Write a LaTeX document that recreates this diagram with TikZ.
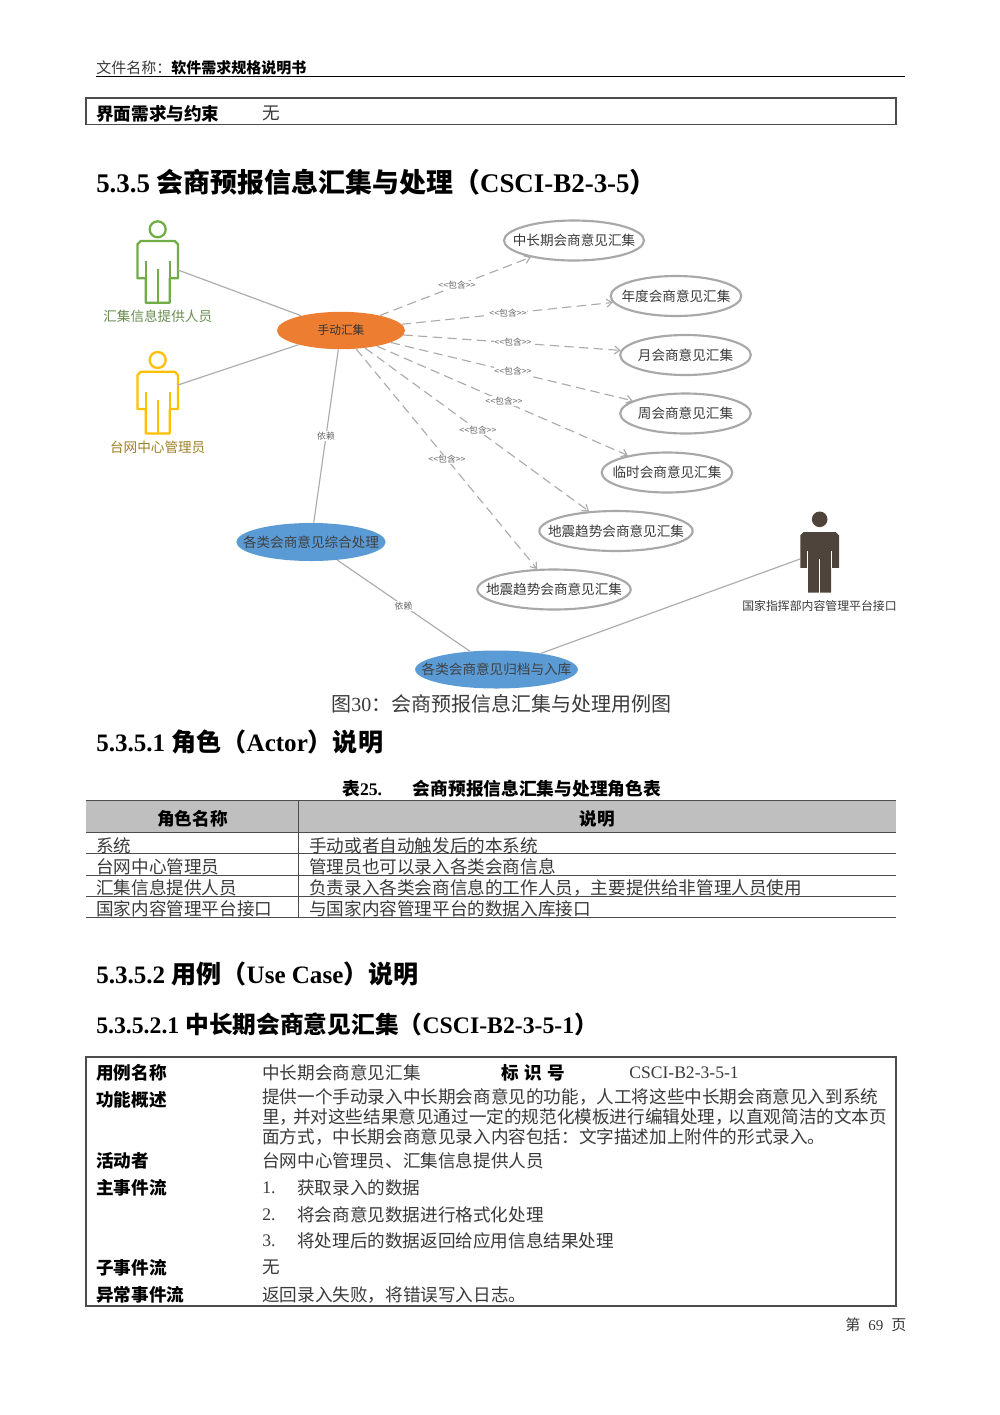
\documentclass[tikz,border=0pt]{standalone}
\usepackage{fontspec}
\setmainfont{Noto Sans CJK SC}
\newfontfamily\lat{Liberation Serif}
\usetikzlibrary{shapes.geometric,arrows.meta}
\definecolor{bodytext}{HTML}{3A3A3A}
\definecolor{conn}{HTML}{ABABAB}
\definecolor{ringc}{HTML}{A8A8A8}
\definecolor{orangec}{HTML}{ED7D31}
\definecolor{bluec}{HTML}{5B9BD5}
\definecolor{greenc}{HTML}{70AD47}
\definecolor{yellowc}{HTML}{FFC000}
\definecolor{brownc}{HTML}{4E443C}
\definecolor{headc}{HTML}{BFBFBF}
\newcommand\incl{<\kern0pt<包含>\kern0pt>}
\newcommand\actorfig[3]{% x, y of head centre, colour
  \begin{scope}[shift={(#1,#2)},draw=#3,line width=1.7pt,line join=round]
    \draw (0,0) circle[radius=8];
    \draw (-17,11.7)--(17,11.7)--(20.3,15)--(20.3,49)--(12,49)--(12,73.4)--(-12,73.4)--(-12,49)--(-20.3,49)--(-20.3,15)--cycle;
    \draw (-12,32)--(-12,49) (12,32)--(12,49) (0,40)--(0,73.4);
  \end{scope}}
\tikzset{
  txt/.style={anchor=west,inner sep=0pt,text=bodytext,yshift=-0.5pt},
  hdrf/.style={txt,font=\fontsize{11.25pt}{13pt}\selectfont},
  bodyf/.style={txt,font=\fontsize{13.2pt}{15pt}\selectfont},
  boldf/.style={txt,text=black,font=\fontsize{13.2pt}{15pt}\selectfont\bfseries},
  h1f/.style={txt,text=black,font=\fontsize{20.2pt}{24pt}\selectfont\bfseries},
  h2f/.style={txt,text=black,font=\fontsize{18.8pt}{22pt}\selectfont\bfseries},
  h3f/.style={txt,text=black,font=\fontsize{17.8pt}{21pt}\selectfont\bfseries},
  usecase/.style={ellipse,draw=ringc,line width=1.6pt,fill=white,inner sep=0pt,text=bodytext,font=\fontsize{10.2pt}{12pt}\selectfont},
  filledcase/.style={ellipse,inner sep=0pt,text=black!75,font=\fontsize{10.2pt}{12pt}\selectfont},
  actorlabel/.style={inner sep=0pt,font=\fontsize{10.2pt}{12pt}\selectfont},
  tag/.style={fill=white,inner sep=0.6pt,text=black!60,font=\fontsize{6.6pt}{8pt}\selectfont},
  assoc/.style={draw=conn,line width=0.85pt},
  incl/.style={draw=conn,line width=0.85pt,dash pattern=on 7pt off 4pt,-{Straight Barb[length=4pt,width=6pt]}},
  rule/.style={draw=black!70,line width=0.8pt},
  thinrule/.style={draw=black!70,line width=0.75pt}
}
\begin{document}
\begin{tikzpicture}[x=0.75pt,y=-0.75pt]
\useasboundingbox (0,0) rectangle (1000,1415);
\fill[white] (0,0) rectangle (1000,1415);

% page head
\node[hdrf] (hdr) at (96,67) {文件名称：{\bfseries\color{black}软件需求规格说明书}};
\draw[draw=black,line width=1.1pt] (96,76.7) -- (905,76.7);
\draw[rule] (86,98) rectangle (896,124.7);
\node[boldf] (ifa) at (96,113) {界面需求与约束};
\node[bodyf] (ifb) at (262,113) {无};
\node[h1f] (h1) at (96,182) {{\lat 5.3.5 }会商预报信息汇集与处理（{\lat CSCI-B2-3-5}）};

% use-case diagram: nodes
\node[ellipse,fill=orangec,inner sep=0pt,minimum width=96pt,minimum height=28pt,text=black!80,font=\fontsize{8.8pt}{10pt}\selectfont] (manual) at (341,330.5) {\makebox[0pt]{手动汇集}};
\node[usecase,minimum width=105pt,minimum height=30pt] (uc1) at (574,240.5) {\makebox[0pt]{中长期会商意见汇集}};
\node[usecase,minimum width=98pt,minimum height=30pt] (uc2) at (676,296) {\makebox[0pt]{年度会商意见汇集}};
\node[usecase,minimum width=98pt,minimum height=30pt] (uc3) at (685.5,355) {\makebox[0pt]{月会商意见汇集}};
\node[usecase,minimum width=98pt,minimum height=30pt] (uc4) at (685.5,413.5) {\makebox[0pt]{周会商意见汇集}};
\node[usecase,minimum width=98pt,minimum height=30pt] (uc5) at (667,472.5) {\makebox[0pt]{临时会商意见汇集}};
\node[usecase,minimum width=115pt,minimum height=30pt] (uc6) at (616,531) {\makebox[0pt]{地震趋势会商意见汇集}};
\node[usecase,minimum width=115pt,minimum height=30pt] (uc7) at (554,589.5) {\makebox[0pt]{地震趋势会商意见汇集}};
\node[filledcase,fill=bluec,minimum width=112pt,minimum height=28.5pt] (synth) at (311,542) {\makebox[0pt]{各类会商意见综合处理}};
\node[filledcase,fill=bluec,minimum width=122pt,minimum height=28.5pt] (arch) at (496.5,669.5) {\makebox[0pt]{各类会商意见归档与入库}};

% actors
\actorfig{157.7}{229.3}{greenc}
\actorfig{157.7}{360}{yellowc}
\begin{scope}[shift={(819.7,519.3)}]
  \fill[brownc] (0,0) circle[radius=7.8];
  \fill[brownc] (-16,12.7)--(16,12.7)--(19.3,16)--(19.3,48.5)--(11.5,48.5)--(11.5,73.4)--(-11.5,73.4)--(-11.5,48.5)--(-19.3,48.5)--(-19.3,16)--cycle;
  \draw[white,line width=0.75pt] (-12,32)--(-12,48.5) (12,32)--(12,48.5) (0,40)--(0,73.4);
\end{scope}
\coordinate (a1) at (178,270);
\coordinate (a2) at (178,385);
\coordinate (a3) at (800,559);
\node[actorlabel,text=greenc!70!black!85] (la1) at (157.7,316) {汇集信息提供人员};
\node[actorlabel,text=yellowc!55!black!85] (la2) at (157.7,447) {台网中心管理员};
\node[actorlabel,text=bodytext,font=\fontsize{8.9pt}{10pt}\selectfont] (la3) at (819.5,606) {国家指挥部内容管理平台接口};

% connectors
\draw[assoc] (a1) -- (manual);
\draw[assoc] (a2) -- (manual);
\draw[assoc] (a3) -- (arch);
\draw[assoc] (manual) -- (synth);
\draw[assoc] (synth) -- (arch);
\foreach \u in {uc1,uc2,uc3,uc4,uc5,uc6,uc7}{\draw[incl] (manual) -- (\u);}

% connector labels
\node[tag] (i1) at (457,285.5) {\incl};
\node[tag] (i2) at (508,313) {\incl};
\node[tag] (i3) at (513,342.5) {\incl};
\node[tag] (i4) at (513,371.5) {\incl};
\node[tag] (i5) at (504,401) {\incl};
\node[tag] (i6) at (478,430) {\incl};
\node[tag] (i7) at (447,459.5) {\incl};
\node[tag] (d1) at (326,436) {依赖};
\node[tag] (d2) at (403.5,606) {依赖};

% caption
\node[txt,font=\fontsize{15pt}{18pt}\selectfont] (cap) at (331,703) {图{\lat 30}：会商预报信息汇集与处理用例图};
\node[h2f] (h2a) at (96,741.5) {{\lat 5.3.5.1 }角色（{\lat Actor}）说明};

% role table
\node[txt,text=black,font=\fontsize{13.3pt}{15pt}\selectfont\bfseries] (tcap) at (342,788) {表{\lat 25.}\hspace{23pt}会商预报信息汇集与处理角色表};
\fill[headc] (86,800.5) rectangle (896,832.7);
\draw[thinrule] (86,800.5) -- (896,800.5) (86,832.7) -- (896,832.7) (86,853.5) -- (896,853.5) (86,875) -- (896,875) (86,896) -- (896,896) (86,917) -- (896,917);
\draw[thinrule] (298,800.5) -- (298,917);
\node[boldf,anchor=center] (th1) at (192.5,818) {角色名称};
\node[boldf,anchor=center] (th2) at (597,818) {说明};
\node[bodyf] (r1a) at (96,845) {系统};
\node[bodyf] (r1b) at (309,845) {手动或者自动触发后的本系统};
\node[bodyf] (r2a) at (96,866) {台网中心管理员};
\node[bodyf] (r2b) at (309,866) {管理员也可以录入各类会商信息};
\node[bodyf] (r3a) at (96,887) {汇集信息提供人员};
\node[bodyf] (r3b) at (309,887) {负责录入各类会商信息的工作人员，主要提供给非管理人员使用};
\node[bodyf] (r4a) at (96,908) {国家内容管理平台接口};
\node[bodyf] (r4b) at (309,908) {与国家内容管理平台的数据入库接口};

\node[h2f] (h2b) at (96,973.5) {{\lat 5.3.5.2 }用例（{\lat Use Case}）说明};
\node[h3f] (h3) at (96,1023.5) {{\lat 5.3.5.2.1 }中长期会商意见汇集（{\lat CSCI-B2-3-5-1}）};

% use-case table
\draw[rule] (86,1057) rectangle (896,1306);
\node[boldf] (k1) at (96,1072) {用例名称};
\node[bodyf] (v1) at (262,1072) {中长期会商意见汇集};
\node[boldf] (k1b) at (501,1072) {标\hspace{4pt}识\hspace{4pt}号};
\node[bodyf] (v1b) at (629,1072) {\lat CSCI-B2-3-5-1};
\node[boldf] (k2) at (96,1099) {功能概述};
\node[bodyf] (v2a) at (262,1096) {提供一个手动录入中长期会商意见的功能，人工将这些中长期会商意见入到系统};
\node[bodyf] (v2b) at (262,1116) {里，\kern-.25em并对这些结果意见通过一定的规范化模板进行编辑处理，\kern-.25em以直观简洁的文本页};
\node[bodyf] (v2c) at (262,1136) {面方式，中长期会商意见录入内容包括：文字描述加上附件的形式录入。};
\node[boldf] (k3) at (96,1160) {活动者};
\node[bodyf] (v3) at (262,1160) {台网中心管理员、汇集信息提供人员};
\node[boldf] (k4) at (96,1187) {主事件流};
\node[bodyf] (v4n) at (262,1187) {\lat 1.};
\node[bodyf] (v4) at (297,1187) {获取录入的数据};
\node[bodyf] (v5n) at (262,1214) {\lat 2.};
\node[bodyf] (v5) at (297,1214) {将会商意见数据进行格式化处理};
\node[bodyf] (v6n) at (262,1240) {\lat 3.};
\node[bodyf] (v6) at (297,1240) {将处理后的数据返回给应用信息结果处理};
\node[boldf] (k7) at (96,1267) {子事件流};
\node[bodyf] (v7) at (262,1267) {无};
\node[boldf] (k8) at (96,1294) {异常事件流};
\node[bodyf] (v8) at (262,1294) {返回录入失败，将错误写入日志。};

% page number
\node[hdrf] (pg) at (845,1324) {第\hspace{6pt}{\lat 69}\hspace{6pt}页};
\end{tikzpicture}
\end{document}
